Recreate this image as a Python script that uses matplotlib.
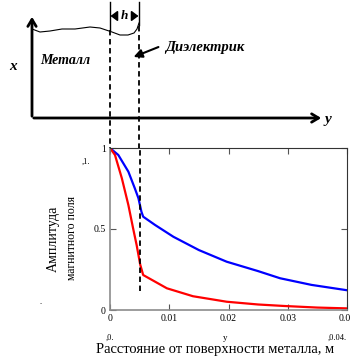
import matplotlib.pyplot as plt

# curves
blue_x = [0, 0.0014, 0.0031, 0.0042, 0.0048, 0.0053, 0.0056, 0.0076, 0.0107, 0.015, 0.0197, 0.025, 0.0287, 0.034, 0.04]
blue_y = [1.0, 0.957, 0.854, 0.75, 0.69, 0.607, 0.576, 0.525, 0.452, 0.37, 0.298, 0.24, 0.196, 0.155, 0.122]
red_x = [0, 0.00084, 0.002, 0.0031, 0.0039, 0.0045, 0.0051, 0.0056, 0.0076, 0.0096, 0.014, 0.0197, 0.025, 0.0293, 0.035, 0.04]
red_y = [1.0, 0.957, 0.813, 0.648, 0.504, 0.40, 0.28, 0.216, 0.175, 0.134, 0.085, 0.051, 0.034, 0.025, 0.015, 0.01]
h = 0.005
xticks = [0, 0.01, 0.02, 0.03, 0.04]
xtick_labels = ['0', '0.01', '0.02', '0.03', '0.04']
yticks = [0, 0.5, 1]
ytick_labels = ['0', '0.5', '1']

# wavy metal surface in the sketch (pixel coords)
wave_x = [32, 40, 50, 62, 75, 90, 100, 106, 112, 120, 128, 134, 137, 139]
wave_y = [29, 32, 31, 29, 29, 27, 28, 30, 32, 35, 35, 33, 29, 23]

serif = 'Liberation Serif'

fig = plt.figure(figsize=(3.5, 3.6), dpi=100)

# main plot
ax = fig.add_axes([110/350, 50/360, 237/350, 162/360])
ax.plot(blue_x, blue_y, color='#0000ff', lw=1.6)
ax.plot(red_x, red_y, color='#ff0000', lw=1.6)
ax.vlines(h, 0.12, 1.0, colors='black', linestyles=(0, (3, 2)), lw=1.3)
ax.vlines(0, 0.97, 1.0, colors='black', linestyles=(0, (3, 2)), lw=1.3)
ax.set_xlim(0, 0.04)
ax.set_ylim(0, 1)
ax.set_xticks(xticks)
ax.set_xticklabels(xtick_labels, fontsize=7, family=serif)
ax.set_yticks(yticks)
ax.set_yticklabels(ytick_labels, fontsize=7, family=serif)
ax.tick_params(direction='in', length=4, width=0.8, color='#555555',
               top=True, right=True, pad=3)
for side in ['left', 'bottom']:
    ax.spines[side].set_color('#8c8c8c')
    ax.spines[side].set_linewidth(1.2)
for side in ['top', 'right']:
    ax.spines[side].set_color('#333333')
    ax.spines[side].set_linewidth(0.8)

# overlay in pixel coordinates for the sketch and loose labels
ov = fig.add_axes([0, 0, 1, 1])
ov.set_xlim(0, 350)
ov.set_ylim(360, 0)
ov.axis('off')
ov.patch.set_alpha(0)

# axes of the sketch
ov.annotate('', xy=(32, 14), xytext=(32, 119),
            arrowprops=dict(arrowstyle='->,head_length=0.5,head_width=0.3', lw=2, color='black'))
ov.annotate('', xy=(324, 118), xytext=(31, 118),
            arrowprops=dict(arrowstyle='->,head_length=0.5,head_width=0.3', lw=2, color='black'))
ov.plot(wave_x, wave_y, color='black', lw=0.8)

# interface lines
ov.plot([110, 110], [2, 30], color='black', lw=1)
ov.plot([139, 139], [2, 25], color='black', lw=1)
ov.plot([110, 110], [30, 148], color='black', lw=1.3, ls=(0, (3, 2)))
ov.plot([139, 139], [26, 148], color='black', lw=1.3, ls=(0, (3, 2)))
ov.annotate('', xy=(110.5, 16), xytext=(116, 16),
            arrowprops=dict(arrowstyle='-|>,head_length=0.4,head_width=0.3', lw=1.2, color='black',
                            shrinkA=0, shrinkB=0))
ov.annotate('', xy=(138.5, 16), xytext=(133, 16),
            arrowprops=dict(arrowstyle='-|>,head_length=0.4,head_width=0.3', lw=1.2, color='black',
                            shrinkA=0, shrinkB=0))
ov.text(124.5, 16, 'h', fontsize=9.5, family=serif, style='italic', fontweight='bold',
        ha='center', va='center')

ov.text(13, 67, 'x', fontsize=11, family=serif, style='italic', fontweight='bold',
        ha='center', va='center')
ov.text(328, 120, 'y', fontsize=11, family=serif, style='italic', fontweight='bold',
        ha='center', va='center')
ov.text(40, 60, 'Металл', fontsize=10, family=serif, style='italic', fontweight='bold',
        ha='left', va='center')
ov.text(165, 48, 'Диэлектрик', fontsize=10.5, family=serif, style='italic', fontweight='bold',
        ha='left', va='center')
ov.annotate('', xy=(131, 58), xytext=(161, 46),
            arrowprops=dict(arrowstyle='-|>,head_length=0.5,head_width=0.25', lw=1.5, color='black'))

# axis titles and Mathcad leftovers
ov.text(53, 239, 'Амплитуда', fontsize=10, family=serif, rotation=90, ha='center', va='center')
ov.text(72, 238, 'магнитного поля', fontsize=8.5, family=serif, rotation=90, ha='center', va='center')
ov.text(215, 350, 'Расстояние от поверхности металла, м', fontsize=10.5, family=serif,
        ha='center', va='center')
ov.text(86, 162, ',1.', fontsize=6, family=serif, ha='center', va='center')
ov.text(110, 338, ',0.', fontsize=6, family=serif, ha='center', va='center')
ov.text(225, 338, 'y', fontsize=6.5, family=serif, ha='center', va='center')
ov.text(337, 338, ',0.04.', fontsize=6, family=serif, ha='center', va='center')
ov.text(41, 302, '.', fontsize=6, family=serif, ha='center', va='center')

fig.savefig('out.png', dpi=100)
